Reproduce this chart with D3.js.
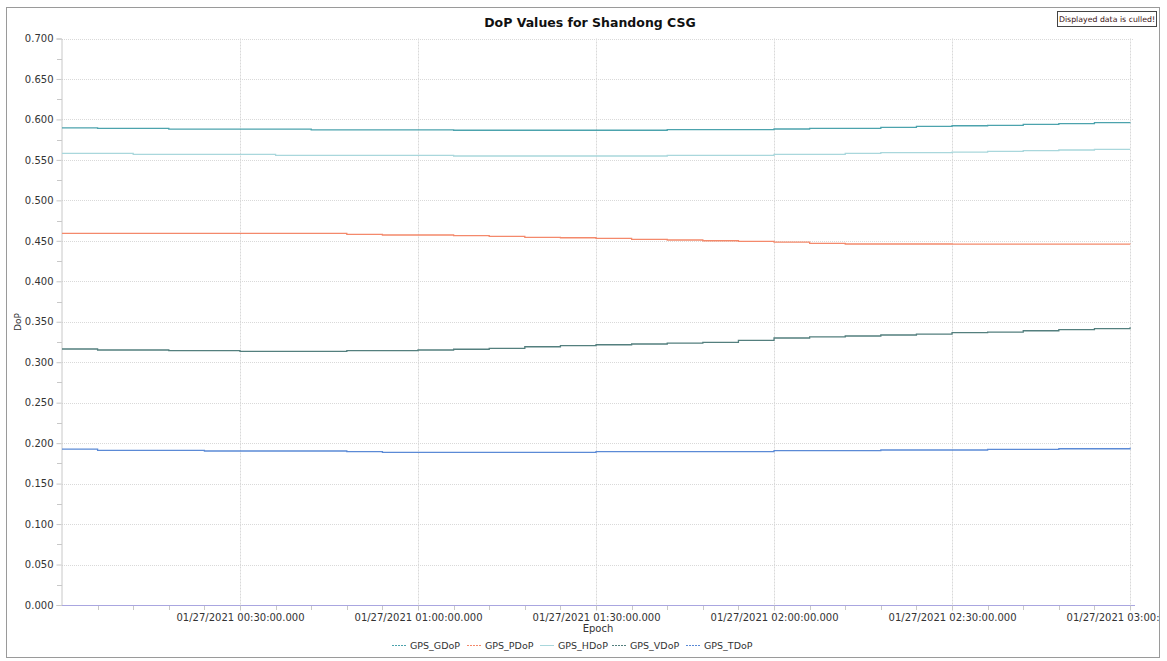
<!DOCTYPE html>
<html>
<head>
<meta charset="utf-8">
<script src="https://cdn.jsdelivr.net/npm/d3@7"></script>
<style>
body { margin: 0; background: #fff; }
text { font-family: "DejaVu Sans", Verdana, sans-serif; }
</style>
</head>
<body>
<svg width="1167" height="661"></svg>
<script>
// epochs, every 6 min on 2021-01-27
var times = ["00:00","00:06","00:12","00:18","00:24","00:30","00:36","00:42","00:48","00:54",
	"01:00","01:06","01:12","01:18","01:24","01:30","01:36","01:42","01:48","01:54",
	"02:00","02:06","02:12","02:18","02:24","02:30","02:36","02:42","02:48","02:54","03:00"];

var gdop = [0.5895,0.589,0.589,0.588,0.588,0.588,0.588,0.587,0.587,0.587,
	0.587,0.5866,0.5866,0.5866,0.5866,0.5866,0.5866,0.5873,0.5873,0.5873,
	0.5882,0.589,0.589,0.5903,0.5915,0.5922,0.5927,0.594,0.5947,0.596,0.5964];
var pdop = [0.4593,0.4593,0.4593,0.4593,0.4593,0.4593,0.4593,0.4593,0.458,0.4572,
	0.4572,0.4563,0.4556,0.4543,0.4538,0.4531,0.4519,0.451,0.4501,0.4494,
	0.4485,0.4469,0.4461,0.4461,0.4461,0.4459,0.4459,0.4459,0.4458,0.4458,0.4457];
var hdop = [0.5581,0.5581,0.5569,0.5569,0.5569,0.5569,0.5557,0.5557,0.5557,0.5557,
	0.5557,0.5548,0.5548,0.5548,0.5548,0.5548,0.5548,0.5557,0.5557,0.5557,
	0.5569,0.5569,0.5581,0.5589,0.5589,0.5597,0.5606,0.5614,0.5622,0.5631,0.5631];
var vdop = [0.3163,0.3151,0.3151,0.3142,0.3142,0.3135,0.3135,0.3135,0.3142,0.3142,
	0.3151,0.316,0.3172,0.3191,0.3204,0.3216,0.3225,0.3237,0.3246,0.3271,
	0.3299,0.3312,0.3324,0.3336,0.3348,0.3365,0.3373,0.3389,0.3402,0.3414,0.3431];
var tdop = [0.1925,0.1911,0.1911,0.1911,0.1903,0.1903,0.1903,0.1903,0.1895,0.1887,
	0.1887,0.1887,0.1887,0.1887,0.1887,0.1895,0.1895,0.1895,0.1895,0.1895,
	0.1907,0.1907,0.1907,0.1915,0.1915,0.1915,0.1924,0.1924,0.1931,0.1931,0.1944];

var seriesNames = ["GPS_GDoP","GPS_PDoP","GPS_HDoP","GPS_VDoP","GPS_TDoP"];
var seriesValues = [gdop, pdop, hdop, vdop, tdop];
var seriesColors = ["#4ca3ad","#f4896b","#a9d7dc","#537f7e","#5b8ad6"];

var yTicks = [0,0.05,0.1,0.15,0.2,0.25,0.3,0.35,0.4,0.45,0.5,0.55,0.6,0.65,0.7];
var xMajor = ["00:30","01:00","01:30","02:00","02:30","03:00"];

var svg = d3.select("svg");
var margin = {left: 62, right: 1134, top: 38.5, bottom: 605};

var parseT = function(s){ return new Date(Date.UTC(2021,0,27,+s.slice(0,2),+s.slice(3,5))); };
var x = d3.scaleUtc()
	.domain([parseT("00:00"), new Date(Date.UTC(2021,0,27,3,0,40))])
	.range([margin.left, margin.right]);
var y = d3.scaleLinear().domain([0, 0.7]).range([margin.bottom, margin.top]);
var fmt = d3.utcFormat("%m/%d/%Y %H:%M:%S.%L");

// frame + clip
svg.append("clipPath").attr("id","frame")
	.append("rect").attr("x",6).attr("y",7).attr("width",1153).attr("height",650);
var g = svg.append("g").attr("clip-path","url(#frame)");
svg.append("rect").attr("x",6.5).attr("y",7.5).attr("width",1153).attr("height",650)
	.attr("fill","none").attr("stroke","#9a9a9a");

// gridlines (dotted)
g.selectAll("line.gy").data(yTicks.slice(1)).enter().append("line")
	.attr("class","gy")
	.attr("x1", margin.left).attr("x2", margin.right)
	.attr("y1", function(d){ return Math.round(y(d)) + 0.5; })
	.attr("y2", function(d){ return Math.round(y(d)) + 0.5; })
	.attr("stroke","#d9d9d9").attr("stroke-dasharray","1,1");
g.selectAll("line.gx").data(xMajor).enter().append("line")
	.attr("class","gx")
	.attr("x1", function(d){ return Math.round(x(parseT(d))) + 0.5; })
	.attr("x2", function(d){ return Math.round(x(parseT(d))) + 0.5; })
	.attr("y1", margin.top).attr("y2", margin.bottom)
	.attr("stroke","#d9d9d9").attr("stroke-dasharray","2,1");

// y axis
var ya = g.append("g").attr("transform","translate(" + (margin.left - 0.5) + ",0)")
	.call(d3.axisLeft(y).tickValues(yTicks).tickFormat(d3.format(".3f")).tickSize(5).tickPadding(3));
ya.select(".domain").attr("stroke","#c8c8c8");
ya.selectAll(".tick line").attr("stroke","#c8c8c8");
ya.selectAll("text").attr("font-size", 10).attr("fill","#333");
// y minor ticks
var yMinorVals = yTicks.slice(1).map(function(d){ return d - 0.025; });
g.selectAll("line.ymin").data(yMinorVals).enter().append("line")
	.attr("class","ymin")
	.attr("x1", margin.left - 5).attr("x2", margin.left)
	.attr("y1", function(d){ return Math.round(y(d)) + 0.5; })
	.attr("y2", function(d){ return Math.round(y(d)) + 0.5; })
	.attr("stroke","#c8c8c8");

// x minor ticks (every 6 minutes)
g.selectAll("line.xmin").data(times.slice(1)).enter().append("line")
	.attr("class","xmin")
	.attr("x1", function(d){ return Math.round(x(parseT(d))) + 0.5; })
	.attr("x2", function(d){ return Math.round(x(parseT(d))) + 0.5; })
	.attr("y1", margin.bottom).attr("y2", margin.bottom + 5)
	.attr("stroke","#c8c8c8");

// x axis labels
var xa = g.append("g").attr("transform","translate(0," + (margin.bottom + 0.5) + ")")
	.call(d3.axisBottom(x).tickValues(xMajor.map(parseT)).tickFormat(fmt).tickSize(5).tickPadding(3));
xa.select(".domain").attr("stroke","#a9a6e0").attr("d","M" + margin.left + ",0H" + (margin.right + 1));
xa.selectAll(".tick line").attr("stroke","#c8c8c8");
xa.selectAll("text").attr("font-size", 10).attr("fill","#333");

// series
var line = d3.line().curve(d3.curveStepAfter)
	.x(function(d, i){ return x(parseT(times[i])); })
	.y(function(d){ return y(d); });
g.selectAll("path.series").data(seriesValues).enter().append("path")
	.attr("class","series")
	.attr("d", function(d){ return line(d); })
	.attr("fill","none")
	.attr("stroke", function(d, i){ return seriesColors[i]; })
	.attr("stroke-width", 1.3);

// titles
g.append("text").attr("x", 590).attr("y", 27).attr("text-anchor","middle")
	.attr("font-size", 12.5).attr("font-weight","bold").attr("fill","#111")
	.text("DoP Values for Shandong CSG");
g.append("text").attr("x", 598).attr("y", 632).attr("text-anchor","middle")
	.attr("font-size", 10).attr("fill","#333").text("Epoch");
g.append("text").attr("transform","translate(21,322) rotate(-90)").attr("text-anchor","middle")
	.attr("font-size", 9).attr("fill","#333").text("DoP");

// culled note
g.append("rect").attr("x", 1057.5).attr("y", 11.5).attr("width", 99).attr("height", 15)
	.attr("fill","#fff").attr("stroke","#444");
g.append("text").attr("x", 1107).attr("y", 22).attr("text-anchor","middle")
	.attr("font-size", 7.8).attr("fill","#3a1010").text("Displayed data is culled!");

// legend
var legendX = [392, 467, 540, 612, 686];
seriesNames.forEach(function(name, i){
	var lg = g.append("g").attr("transform","translate(" + legendX[i] + ",645)");
	lg.append("line").attr("x1", 0).attr("x2", 14).attr("y1", 0.5).attr("y2", 0.5)
		.attr("stroke", seriesColors[i]).attr("stroke-width", 1)
		.attr("stroke-dasharray", i === 2 ? null : "2,1");
	lg.append("text").attr("x", 18).attr("y", 4).attr("font-size", 9.5).attr("fill","#333").text(name);
});
</script>
</body>
</html>
